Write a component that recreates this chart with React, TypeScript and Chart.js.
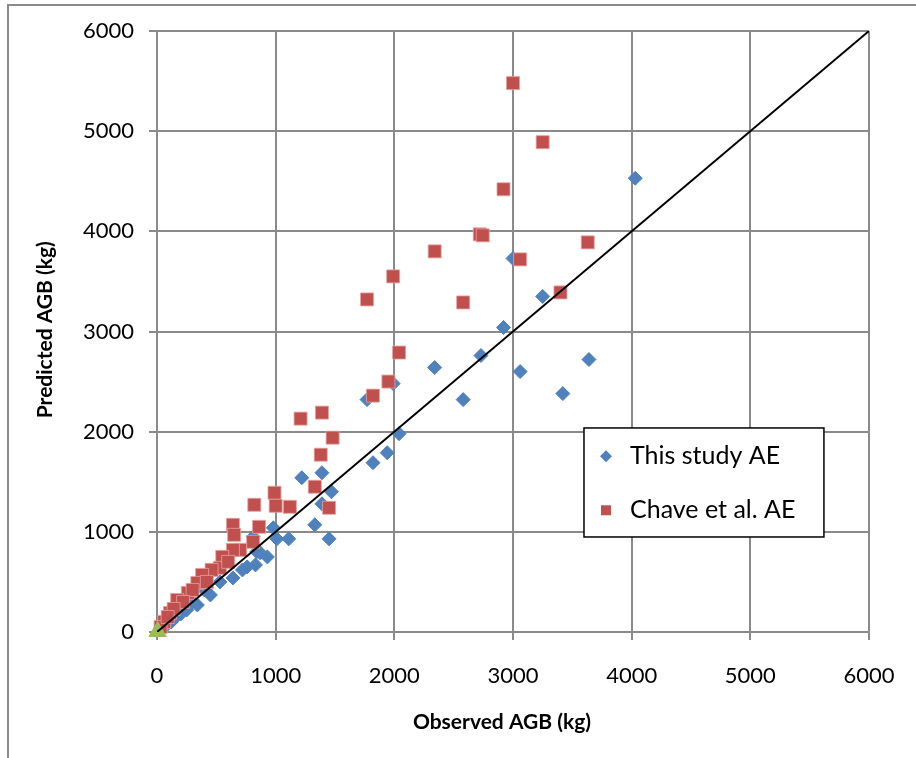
import React, { useEffect, useRef } from "react";
import { Chart, registerables } from "chart.js";

Chart.register(...registerables);

const thisStudyX = [4030, 3000, 3250, 2920, 2730, 3060, 3640, 3420, 2340, 2580, 1990, 1770, 2040, 1940, 1820, 1390, 1220, 1470, 1390, 1330, 1450, 980, 1010, 1110, 840, 930, 810, 870, 830, 720, 640, 530, 450, 340, 250, 150, 90, 760, 400, 300, 200, 50, 120];
const thisStudyY = [4530, 3730, 3350, 3040, 2760, 2600, 2720, 2380, 2640, 2320, 2480, 2320, 1980, 1790, 1690, 1590, 1540, 1400, 1280, 1070, 930, 1040, 930, 930, 800, 750, 950, 790, 670, 620, 540, 500, 370, 270, 220, 140, 80, 650, 420, 300, 180, 40, 100];

const chaveX = [3000, 3250, 2920, 2720, 2745, 3630, 2340, 3060, 1990, 3400, 1770, 2580, 2040, 1950, 1820, 1390, 1210, 1480, 1380, 1330, 990, 1000, 1120, 820, 1450, 860, 640, 650, 810, 700, 640, 550, 530, 460, 380, 340, 260, 170, 110, 60, 30, 420, 300, 220, 140, 600, 90];
const chaveY = [5480, 4890, 4420, 3970, 3960, 3890, 3800, 3720, 3550, 3390, 3320, 3290, 2790, 2500, 2360, 2190, 2130, 1940, 1770, 1450, 1390, 1260, 1250, 1270, 1240, 1050, 1070, 970, 900, 820, 820, 750, 640, 620, 570, 490, 390, 320, 190, 100, 50, 500, 420, 300, 230, 700, 150];

const originX = [5];
const originY = [5];

const lineX = [0, 6000];
const lineY = [0, 6000];

const tickValues = [0, 1000, 2000, 3000, 4000, 5000, 6000];
const seriesNames = ["This study AE", "Chave et al. AE"];
const xTitle = "Observed AGB (kg)";
const yTitle = "Predicted AGB (kg)";

const BLUE = "#4F81BD";
const RED = "#C0504D";
const GREEN = "#9BBB59";
const GRID = "#8a8a8a";
const FONT = "Lato, 'Open Sans', sans-serif";

const zip = (xs: number[], ys: number[]) => xs.map((x, i) => ({ x, y: ys[i] }));

const frameAndLegend = {
  id: "frameAndLegend",
  beforeDraw(chart: any) {
    const ctx = chart.ctx;
    ctx.save();
    ctx.strokeStyle = GRID;
    ctx.lineWidth = 2;
    ctx.beginPath();
    ctx.moveTo(8, 760);
    ctx.lineTo(8, 5);
    ctx.lineTo(920, 5);
    ctx.stroke();
    ctx.restore();
  },
  afterDraw(chart: any) {
    const ctx = chart.ctx;
    const a = chart.chartArea;
    const w = a.right - a.left;
    const h = a.bottom - a.top;

    ctx.save();
    ctx.fillStyle = "#000";
    ctx.font = `bold 21px ${FONT}`;
    ctx.textAlign = "center";
    ctx.textBaseline = "middle";
    ctx.fillText(xTitle, a.left + w * 0.4845, a.bottom + 90);
    ctx.translate(45, a.top + h * 0.497);
    ctx.rotate(-Math.PI / 2);
    ctx.fillText(yTitle, 0, 0);
    ctx.restore();

    const bx = a.left + w * 0.5997;
    const by = a.top + h * 0.6605;
    const bw = w * 0.337;
    const bh = h * 0.1814;
    ctx.save();
    ctx.fillStyle = "#ffffff";
    ctx.fillRect(bx, by, bw, bh);
    ctx.strokeStyle = "#000000";
    ctx.lineWidth = 1.5;
    ctx.strokeRect(bx, by, bw, bh);
    const rows = [by + bh * 0.26, by + bh * 0.755];
    const mx = bx + 22;
    ctx.fillStyle = BLUE;
    ctx.beginPath();
    ctx.moveTo(mx - 6, rows[0]);
    ctx.lineTo(mx, rows[0] - 6);
    ctx.lineTo(mx + 6, rows[0]);
    ctx.lineTo(mx, rows[0] + 6);
    ctx.closePath();
    ctx.fill();
    ctx.fillStyle = RED;
    ctx.fillRect(mx - 5, rows[1] - 5, 10, 10);
    ctx.fillStyle = "#000000";
    ctx.font = `25px ${FONT}`;
    ctx.textBaseline = "middle";
    ctx.textAlign = "left";
    ctx.fillText(seriesNames[0], bx + 46, rows[0]);
    ctx.fillText(seriesNames[1], bx + 46, rows[1]);
    ctx.restore();
  },
};

export default function App() {
  const ref = useRef<HTMLCanvasElement | null>(null);

  useEffect(() => {
    if (!ref.current) return;
    const tickFont = { family: FONT, size: 22 };
    const fmt = (v: any) => String(v);
    const chart = new Chart(ref.current, {
      type: "scatter",
      data: {
        datasets: [
          {
            label: "1:1",
            type: "line",
            data: zip(lineX, lineY),
            borderColor: "#000000",
            borderWidth: 2,
            pointRadius: 0,
            showLine: true,
            fill: false,
            order: 0,
          } as any,
          {
            label: "origin",
            data: zip(originX, originY),
            pointStyle: "triangle",
            pointRadius: 10,
            backgroundColor: GREEN,
            borderColor: GREEN,
            borderWidth: 1,
            clip: false,
            order: 1,
          } as any,
          {
            label: seriesNames[1],
            data: zip(chaveX, chaveY),
            pointStyle: "rect",
            pointRadius: 9.2,
            backgroundColor: RED,
            borderColor: "rgba(230,160,160,0.8)",
            borderWidth: 1,
            clip: false,
            order: 2,
          } as any,
          {
            label: seriesNames[0],
            data: zip(thisStudyX, thisStudyY),
            pointStyle: "rectRot",
            pointRadius: 7,
            backgroundColor: BLUE,
            borderColor: BLUE,
            borderWidth: 1,
            clip: false,
            order: 3,
          } as any,
        ],
      },
      options: {
        responsive: false,
        animation: false,
        devicePixelRatio: 1,
        layout: { padding: { left: 0, top: 31, right: 47, bottom: 0 } },
        plugins: {
          legend: { display: false },
          tooltip: { enabled: false },
        },
        scales: {
          x: {
            type: "linear",
            min: 0,
            max: 6000,
            afterBuildTicks: (s: any) => {
              s.ticks = tickValues.map((v) => ({ value: v }));
            },
            afterFit: (s: any) => {
              s.height = 126;
              s.paddingLeft = 0;
              s.paddingRight = 0;
            },
            ticks: { font: tickFont, color: "#000", padding: 23, maxRotation: 0, callback: fmt },
            grid: { color: GRID, lineWidth: 2, tickLength: 8, drawTicks: true },
            border: { display: true, color: GRID, width: 2 },
            title: { display: false },
          },
          y: {
            type: "linear",
            min: 0,
            max: 6000,
            afterBuildTicks: (s: any) => {
              s.ticks = tickValues.map((v) => ({ value: v }));
            },
            afterFit: (s: any) => {
              s.width = 157;
              s.paddingTop = 0;
              s.paddingBottom = 0;
            },
            ticks: { font: tickFont, color: "#000", padding: 15, callback: fmt },
            grid: { color: GRID, lineWidth: 2, tickLength: 8, drawTicks: true },
            border: { display: true, color: GRID, width: 2 },
            title: { display: false },
          },
        },
      },
      plugins: [frameAndLegend],
    });
    return () => chart.destroy();
  }, []);

  return (
    <div style={{ position: "absolute", left: 0, top: 0, width: 916, height: 758, background: "#fff" }}>
      <canvas ref={ref} width={916} height={758} style={{ display: "block" }} />
    </div>
  );
}
